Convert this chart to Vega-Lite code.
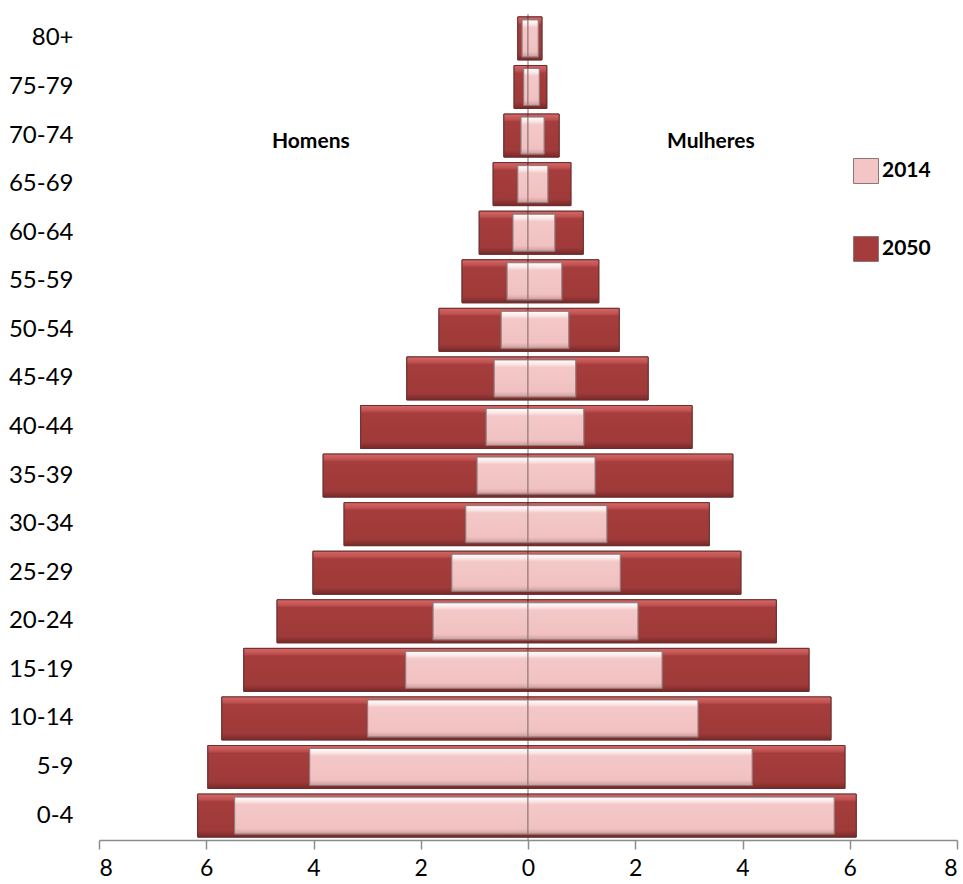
{
  "$schema": "https://vega.github.io/schema/vega-lite/v6.json",
  "width": 858,
  "height": 826,
  "padding": {"left": 8, "top": 13, "right": 5, "bottom": 0},
  "background": "white",
  "config": {
    "view": {"stroke": null},
    "font": "Lato",
    "axis": {"labelFont": "Lato", "labelColor": "#000000", "grid": false}
  },
  "datasets": {
    "pop": [
      {"age": "0-4", "sex": "Homens", "year": "2014", "value": -5.47},
      {"age": "0-4", "sex": "Mulheres", "year": "2014", "value": 5.71},
      {"age": "0-4", "sex": "Homens", "year": "2050", "value": -6.16},
      {"age": "0-4", "sex": "Mulheres", "year": "2050", "value": 6.12},
      {"age": "5-9", "sex": "Homens", "year": "2014", "value": -4.07},
      {"age": "5-9", "sex": "Mulheres", "year": "2014", "value": 4.18},
      {"age": "5-9", "sex": "Homens", "year": "2050", "value": -5.97},
      {"age": "5-9", "sex": "Mulheres", "year": "2050", "value": 5.91},
      {"age": "10-14", "sex": "Homens", "year": "2014", "value": -2.99},
      {"age": "10-14", "sex": "Mulheres", "year": "2014", "value": 3.17},
      {"age": "10-14", "sex": "Homens", "year": "2050", "value": -5.71},
      {"age": "10-14", "sex": "Mulheres", "year": "2050", "value": 5.65},
      {"age": "15-19", "sex": "Homens", "year": "2014", "value": -2.28},
      {"age": "15-19", "sex": "Mulheres", "year": "2014", "value": 2.50},
      {"age": "15-19", "sex": "Homens", "year": "2050", "value": -5.30},
      {"age": "15-19", "sex": "Mulheres", "year": "2050", "value": 5.24},
      {"age": "20-24", "sex": "Homens", "year": "2014", "value": -1.77},
      {"age": "20-24", "sex": "Mulheres", "year": "2014", "value": 2.05},
      {"age": "20-24", "sex": "Homens", "year": "2050", "value": -4.68},
      {"age": "20-24", "sex": "Mulheres", "year": "2050", "value": 4.63},
      {"age": "25-29", "sex": "Homens", "year": "2014", "value": -1.42},
      {"age": "25-29", "sex": "Mulheres", "year": "2014", "value": 1.72},
      {"age": "25-29", "sex": "Homens", "year": "2050", "value": -4.01},
      {"age": "25-29", "sex": "Mulheres", "year": "2050", "value": 3.97},
      {"age": "30-34", "sex": "Homens", "year": "2014", "value": -1.16},
      {"age": "30-34", "sex": "Mulheres", "year": "2014", "value": 1.47},
      {"age": "30-34", "sex": "Homens", "year": "2050", "value": -3.43},
      {"age": "30-34", "sex": "Mulheres", "year": "2050", "value": 3.38},
      {"age": "35-39", "sex": "Homens", "year": "2014", "value": -0.95},
      {"age": "35-39", "sex": "Mulheres", "year": "2014", "value": 1.25},
      {"age": "35-39", "sex": "Homens", "year": "2050", "value": -3.82},
      {"age": "35-39", "sex": "Mulheres", "year": "2050", "value": 3.82},
      {"age": "40-44", "sex": "Homens", "year": "2014", "value": -0.78},
      {"age": "40-44", "sex": "Mulheres", "year": "2014", "value": 1.04},
      {"age": "40-44", "sex": "Homens", "year": "2050", "value": -3.12},
      {"age": "40-44", "sex": "Mulheres", "year": "2050", "value": 3.06},
      {"age": "45-49", "sex": "Homens", "year": "2014", "value": -0.63},
      {"age": "45-49", "sex": "Mulheres", "year": "2014", "value": 0.89},
      {"age": "45-49", "sex": "Homens", "year": "2050", "value": -2.26},
      {"age": "45-49", "sex": "Mulheres", "year": "2050", "value": 2.24},
      {"age": "50-54", "sex": "Homens", "year": "2014", "value": -0.50},
      {"age": "50-54", "sex": "Mulheres", "year": "2014", "value": 0.76},
      {"age": "50-54", "sex": "Homens", "year": "2050", "value": -1.66},
      {"age": "50-54", "sex": "Mulheres", "year": "2050", "value": 1.70},
      {"age": "55-59", "sex": "Homens", "year": "2014", "value": -0.39},
      {"age": "55-59", "sex": "Mulheres", "year": "2014", "value": 0.63},
      {"age": "55-59", "sex": "Homens", "year": "2050", "value": -1.23},
      {"age": "55-59", "sex": "Mulheres", "year": "2050", "value": 1.32},
      {"age": "60-64", "sex": "Homens", "year": "2014", "value": -0.28},
      {"age": "60-64", "sex": "Mulheres", "year": "2014", "value": 0.50},
      {"age": "60-64", "sex": "Homens", "year": "2050", "value": -0.91},
      {"age": "60-64", "sex": "Mulheres", "year": "2050", "value": 1.03},
      {"age": "65-69", "sex": "Homens", "year": "2014", "value": -0.19},
      {"age": "65-69", "sex": "Mulheres", "year": "2014", "value": 0.37},
      {"age": "65-69", "sex": "Homens", "year": "2050", "value": -0.65},
      {"age": "65-69", "sex": "Mulheres", "year": "2050", "value": 0.80},
      {"age": "70-74", "sex": "Homens", "year": "2014", "value": -0.13},
      {"age": "70-74", "sex": "Mulheres", "year": "2014", "value": 0.30},
      {"age": "70-74", "sex": "Homens", "year": "2050", "value": -0.45},
      {"age": "70-74", "sex": "Mulheres", "year": "2050", "value": 0.58},
      {"age": "75-79", "sex": "Homens", "year": "2014", "value": -0.08},
      {"age": "75-79", "sex": "Mulheres", "year": "2014", "value": 0.21},
      {"age": "75-79", "sex": "Homens", "year": "2050", "value": -0.26},
      {"age": "75-79", "sex": "Mulheres", "year": "2050", "value": 0.35},
      {"age": "80+", "sex": "Homens", "year": "2014", "value": -0.11},
      {"age": "80+", "sex": "Mulheres", "year": "2014", "value": 0.19},
      {"age": "80+", "sex": "Homens", "year": "2050", "value": -0.19},
      {"age": "80+", "sex": "Mulheres", "year": "2050", "value": 0.26}
    ],
    "notes": [
      {"text": "Homens", "x": -4.05, "age": "70-74"},
      {"text": "Mulheres", "x": 3.41, "age": "70-74"}
    ]
  },
  "encoding": {
    "y": {
      "field": "age",
      "type": "nominal",
      "scale": {
        "domain": ["80+", "75-79", "70-74", "65-69", "60-64", "55-59", "50-54", "45-49", "40-44", "35-39", "30-34", "25-29", "20-24", "15-19", "10-14", "5-9", "0-4"],
        "paddingInner": 0.115,
        "paddingOuter": 0.06
      },
      "axis": {
        "title": null,
        "domain": false,
        "ticks": false,
        "labelFontSize": 24,
        "labelPadding": 26,
        "labelAlign": "right"
      }
    }
  },
  "layer": [
    {
      "data": {"values": [{"v": 0}]},
      "mark": {"type": "rule", "color": "#8c8c8c", "strokeWidth": 1.2},
      "encoding": {"x": {"field": "v", "type": "quantitative", "scale": {"domain": [-8, 8]}}, "y": null}
    },
    {
      "data": {"name": "pop"},
      "transform": [{"filter": "datum.year == '2050'"}],
      "mark": {"type": "bar", "stroke": "#6a3030", "strokeWidth": 1},
      "encoding": {
        "x": {
          "field": "value",
          "type": "quantitative",
          "scale": {"domain": [-8, 8], "nice": false, "zero": false},
          "axis": {
            "title": null,
            "values": [-8, -6, -4, -2, 0, 2, 4, 6, 8],
            "labelExpr": "abs(datum.value)",
            "labelFontSize": 23,
            "labelPadding": 8,
            "tickSize": 9,
            "tickColor": "#8c8c8c",
            "domainColor": "#8c8c8c",
            "domainWidth": 1.5,
            "tickWidth": 1.5
          }
        },
        "x2": {"datum": 0},
        "color": {
          "field": "year",
          "type": "nominal",
          "scale": {"domain": ["2014", "2050"], "range": ["#f3c5c5", "#a33c3b"]},
          "legend": {
            "title": null,
            "orient": "none",
            "legendX": 754,
            "legendY": 144,
            "symbolType": "square",
            "symbolSize": 625,
            "symbolStrokeColor": "#8a7070",
            "symbolStrokeWidth": 1,
            "labelFont": "Lato",
            "labelFontWeight": "bold",
            "labelFontSize": 21,
            "labelColor": "#000000",
            "labelOffset": 3,
            "rowPadding": 48
          }
        }
      }
    },
    {
      "data": {"name": "pop"},
      "transform": [{"filter": "datum.year == '2050'"}],
      "mark": {
        "type": "bar",
        "stroke": "#6a3030",
        "strokeWidth": 1,
        "fill": {
          "gradient": "linear",
          "x1": 0, "y1": 0, "x2": 0, "y2": 1,
          "stops": [
            {"offset": 0, "color": "#d86868"},
            {"offset": 0.12, "color": "#c05252"},
            {"offset": 0.18, "color": "#a53d3c"},
            {"offset": 0.85, "color": "#9e3a39"},
            {"offset": 0.93, "color": "#8a3130"},
            {"offset": 1, "color": "#762828"}
          ]
        }
      },
      "encoding": {
        "x": {"field": "value", "type": "quantitative"},
        "x2": {"datum": 0}
      }
    },
    {
      "data": {"name": "pop"},
      "transform": [{"filter": "datum.year == '2014'"}],
      "mark": {"type": "bar", "height": 37, "stroke": "#8f7676", "strokeWidth": 1},
      "encoding": {
        "x": {"field": "value", "type": "quantitative"},
        "x2": {"datum": 0},
        "color": {"field": "year", "type": "nominal"}
      }
    },
    {
      "data": {"name": "pop"},
      "transform": [{"filter": "datum.year == '2014'"}],
      "mark": {
        "type": "bar",
        "height": 37,
        "stroke": "#8f7676",
        "strokeWidth": 1,
        "fill": {
          "gradient": "linear",
          "x1": 0, "y1": 0, "x2": 0, "y2": 1,
          "stops": [
            {"offset": 0, "color": "#ffffff"},
            {"offset": 0.12, "color": "#fbe6e6"},
            {"offset": 0.2, "color": "#f4c8c8"},
            {"offset": 0.85, "color": "#f1c1c1"},
            {"offset": 0.93, "color": "#dfaeae"},
            {"offset": 1, "color": "#c49999"}
          ]
        }
      },
      "encoding": {
        "x": {"field": "value", "type": "quantitative"},
        "x2": {"datum": 0}
      }
    },
    {
      "data": {"name": "notes"},
      "mark": {"type": "text", "font": "Lato", "fontWeight": "bold", "fontSize": 21, "color": "#000000", "dy": 6},
      "encoding": {
        "x": {"field": "x", "type": "quantitative"},
        "text": {"field": "text"}
      }
    }
  ]
}
